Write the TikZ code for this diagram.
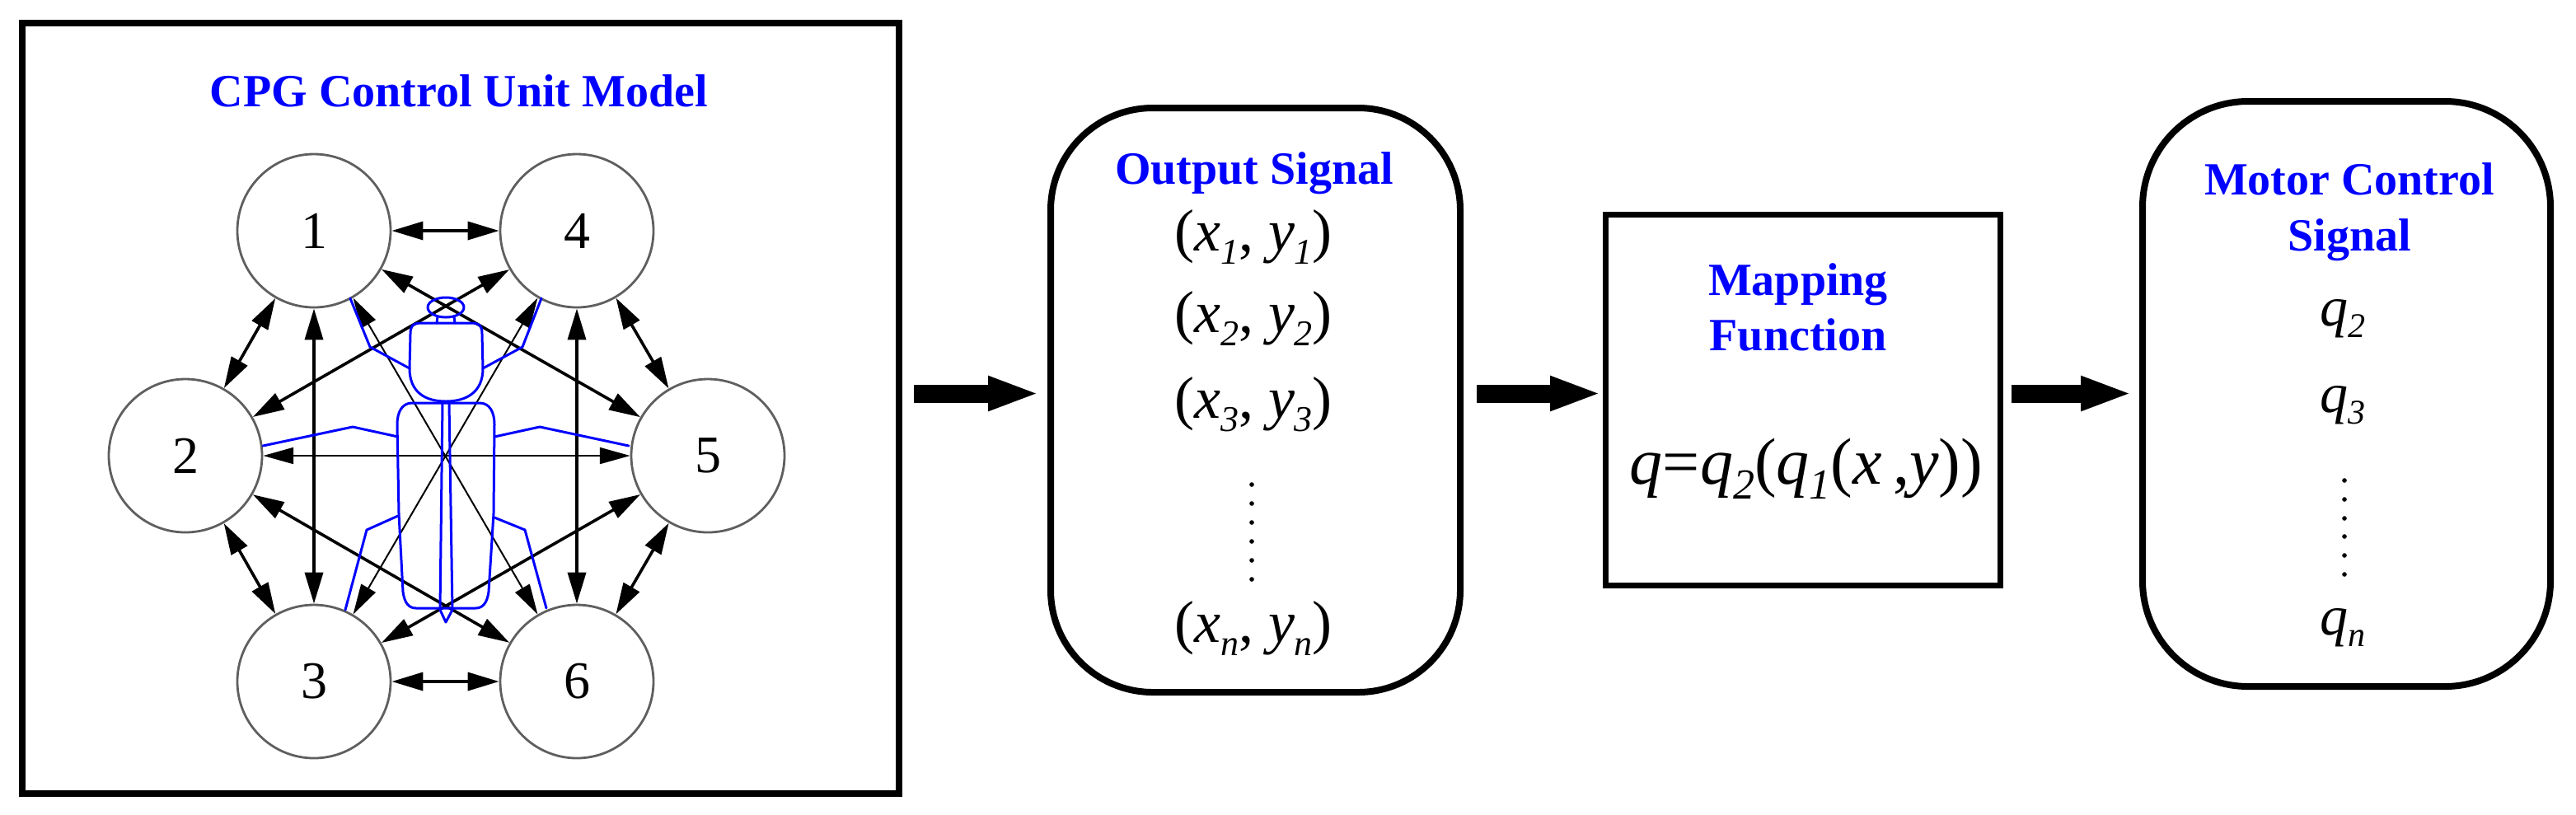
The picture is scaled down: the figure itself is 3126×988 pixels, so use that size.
\documentclass[tikz,border=0pt]{standalone}
\usepackage{fontspec}
\setmainfont{Liberation Serif}
\usetikzlibrary{arrows.meta,calc}
\definecolor{cgray}{RGB}{95,95,95}
\definecolor{bblue}{RGB}{0,0,255}
\newcommand{\lsub}[3]{\raisebox{-#1}{\fontsize{#2}{#2}\selectfont\itshape #3}}
\tikzset{
  bigbox/.style={draw, line width=2pt, inner sep=0pt, outer sep=0pt},
  cnode/.style={circle, draw=cgray, line width=0.7pt, minimum size=46.5pt, inner sep=0pt, fill=white, font=\fontsize{16pt}{16pt}\selectfont},
  thk/.style={line width=0.9pt, {Triangle[length=9.5pt,width=5.5pt]}-{Triangle[length=9.5pt,width=5.5pt]}},
  thn/.style={line width=0.5pt, {Triangle[length=9.2pt,width=5pt]}-{Triangle[length=9.2pt,width=5pt]}},
  beetle/.style={draw=bblue, line width=0.75pt, line join=round, line cap=round},
  btitle/.style={font=\fontsize{14pt}{14pt}\selectfont\bfseries, text=bblue, anchor=base, inner sep=0pt},
  mathline/.style={font=\fontsize{18pt}{18pt}\selectfont, anchor=base, inner sep=0pt},
  qline/.style={font=\fontsize{17pt}{17pt}\selectfont, anchor=base, inner sep=0pt},
  bigarrow/.style={line width=5.5pt, -{Triangle[length=15.75pt,width=9.5pt]}},
}
\begin{document}
\begin{tikzpicture}[x=0.25pt,y=-0.25pt]
\useasboundingbox (0,0) rectangle (3126,988);

% ---- boxes
\node[bigbox, minimum width=266pt, minimum height=233.75pt] (leftbox) at (559,495.5) {};
\node[bigbox, rounded corners=31pt, minimum width=124.25pt, minimum height=177.25pt] (output) at (1523.5,485.5) {};
\node[bigbox, line width=1.75pt, minimum width=119.75pt, minimum height=112.5pt] (mapping) at (2187.5,485) {};
\node[bigbox, rounded corners=32pt, minimum width=123.75pt, minimum height=177.5pt] (motor) at (2847.5,478) {};

% ---- title of CPG
\node[btitle] (ttitle) at (557,129) {CPG Control Unit Model};

% ---- CPG circles
\node[cnode] (c1) at (381,280) {1};
\node[cnode] (c4) at (700,280) {4};
\node[cnode] (c2) at (225,553) {2};
\node[cnode] (c5) at (859,553) {5};
\node[cnode] (c3) at (381,827) {3};
\node[cnode] (c6) at (700,827) {6};

% ---- connections
\draw[thk] (c1) -- (c4);
\draw[thk] (c1) -- (c2);
\draw[thk] (c2) -- (c3);
\draw[thk] (c3) -- (c6);
\draw[thk] (c6) -- (c5);
\draw[thk] (c5) -- (c4);
\draw[thk] (c1) -- (c3);
\draw[thk] (c4) -- (c6);
\draw[thk] (c1) -- (c5);
\draw[thk] (c2) -- (c4);
\draw[thk] (c2) -- (c6);
\draw[thk] (c3) -- (c5);
\draw[thn] (c2) -- (c5);
\draw[thn] (c1) -- (c6);
\draw[thn] (c4) -- (c3);

% ---- beetle figure
\draw[beetle] (541,373) ellipse [x radius=22, y radius=12];
\draw[beetle] (531,384) -- (530,392);
\draw[beetle] (551,384) -- (552,392);
\draw[beetle] (497,447) -- (498,405) .. controls (498,394) and (503,392) .. (512,392)
  -- (571,392) .. controls (580,392) and (585,394) .. (585,405) -- (586,447)
  .. controls (586,476) and (566,487) .. (541,487) .. controls (516,487) and (497,476) .. cycle;
\draw[beetle] (541,489) -- (500,489) .. controls (488,489) and (482,500) .. (482,515)
  -- (484,623) -- (489,718) .. controls (491,733) and (497,738) .. (505,738)
  -- (577,738) .. controls (585,738) and (591,733) .. (593,718)
  -- (599,623) -- (600,515) .. controls (600,500) and (594,489) .. (582,489) -- cycle;
\draw[beetle] (537,489) -- (534,740) -- (541,755) -- (549,740) -- (545,489);
% legs
\draw[beetle] (425,362) -- (449,421) -- (497,447);
\draw[beetle] (657,362) -- (634,421) -- (586,447);
\draw[beetle] (319,541) -- (428,518) -- (483,530);
\draw[beetle] (763,541) -- (655,518) -- (600,530);
\draw[beetle] (483,626) -- (445,643) -- (419,740);
\draw[beetle] (600,628) -- (637,643) -- (663,738);

% ---- big arrows
\coordinate (ay) at (0,477.5);
\draw[bigarrow, shorten <=4.5pt, shorten >=3.25pt] (leftbox.east |- ay) -- (output.west |- ay);
\draw[bigarrow, shorten <=5pt, shorten >=1pt] (output.east |- ay) -- (mapping.west |- ay);
\draw[bigarrow, shorten <=3.5pt, shorten >=3pt] (mapping.east |- ay) -- (motor.west |- ay);

% ---- output signal box text
\node[btitle] (otitle) at (1522,223) {Output Signal};
\node[mathline] (o1) at (1521,304) {(\textit{x}\lsub{4pt}{11pt}{1}, \textit{y}\lsub{4pt}{11pt}{1})};
\node[mathline] (o2) at (1521,403) {(\textit{x}\lsub{4pt}{11pt}{2}, \textit{y}\lsub{4pt}{11pt}{2})};
\node[mathline] (o3) at (1521,507) {(\textit{x}\lsub{4pt}{11pt}{3}, \textit{y}\lsub{4pt}{11pt}{3})};
\node[mathline] (on) at (1521,779) {(\textit{x}\lsub{4pt}{11pt}{n}, \textit{y}\lsub{4pt}{11pt}{n})};
\foreach \yy in {588,611,634,657,680,703} \fill (1519,\yy) circle (0.7pt);

% ---- mapping box text
\node[btitle] (mt1) at (2182,358) {Mapping};
\node[btitle] (mt2) at (2182,425) {Function};
\node[font=\fontsize{20pt}{20pt}\selectfont, anchor=base, inner sep=0pt] (formula) at (2192,587)
  {\textit{q}=\textit{q}\lsub{4.5pt}{13pt}{2}(\textit{q}\lsub{4.5pt}{13pt}{1}(\textit{x}\,,\textit{y}))};

% ---- motor control box text
\node[btitle] (ct1) at (2851,236) {Motor Control};
\node[btitle] (ct2) at (2851,304) {Signal};
\node[qline] (q2) at (2843,395) {\textit{q}\lsub{3.5pt}{10.5pt}{2}};
\node[qline] (q3) at (2843,500) {\textit{q}\lsub{3.5pt}{10.5pt}{3}};
\node[qline] (qn) at (2843,770) {\textit{q}\lsub{3.5pt}{10.5pt}{n}};
\foreach \yy in {583,606,629,651,674,697} \fill (2845,\yy) circle (0.7pt);
\end{tikzpicture}
\end{document}
